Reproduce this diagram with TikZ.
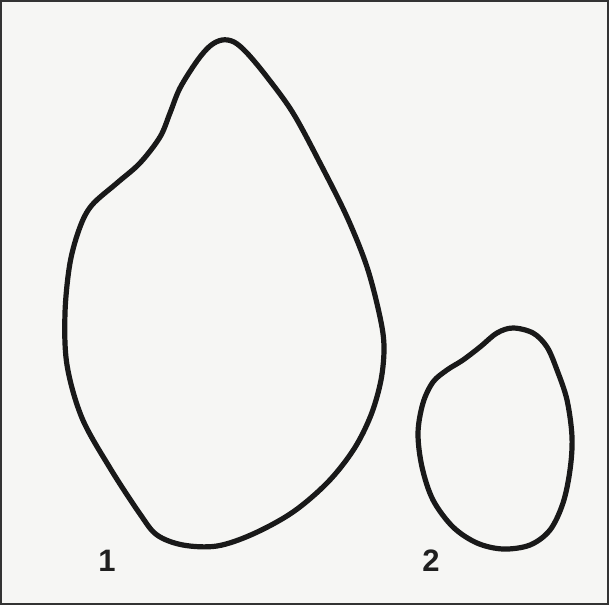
\documentclass[tikz,border=0pt]{standalone}
\usepackage{fontspec}
\setmainfont{Liberation Sans}
\begin{document}
\begin{tikzpicture}[x=1pt,y=-1pt,
  outline/.style={line width=5.2pt,line join=round,color=black!90},
  lbl/.style={font=\bfseries\fontsize{31}{31}\selectfont,text=black!88,inner sep=0pt}]
\definecolor{paper}{RGB}{246,246,244}
\useasboundingbox (0,0) rectangle (609,605);
\fill[paper] (0,0) rectangle (609,605);
\draw[line width=1.6pt,black!80] (0.8,0.8) rectangle (608.2,604.2);
% shape 1
\draw[outline] plot[smooth cycle,tension=0.55] coordinates {
 (222,40) (234,42) (247,53) (267,77) (293,113) (320,163) (347,217) (367,267)
 (380,317) (384,347) (381,380) (371,415) (354,449) (328,482) (293,512)
 (253,534) (217,546) (183,545) (157,535) (140,514) (110,468) (82,418)
 (67,365) (65,313) (70,263) (80,227) (92,205) (117,183) (140,163) (160,137)
 (170,113) (180,88) (197,61) (210,46)};
% shape 2
\draw[outline] plot[smooth cycle,tension=0.55] coordinates {
 (513,328) (533,333) (547,347) (557,370) (567,400) (572,437) (570,470)
 (563,503) (550,530) (530,545) (503,549) (477,543) (453,527) (433,500)
 (422,467) (418,433) (423,403) (433,382) (447,370) (463,360) (480,347) (497,333)};
\node[lbl] (one) at (107,561) {1};
\node[lbl] (two) at (431,561) {2};
\end{tikzpicture}
\end{document}
